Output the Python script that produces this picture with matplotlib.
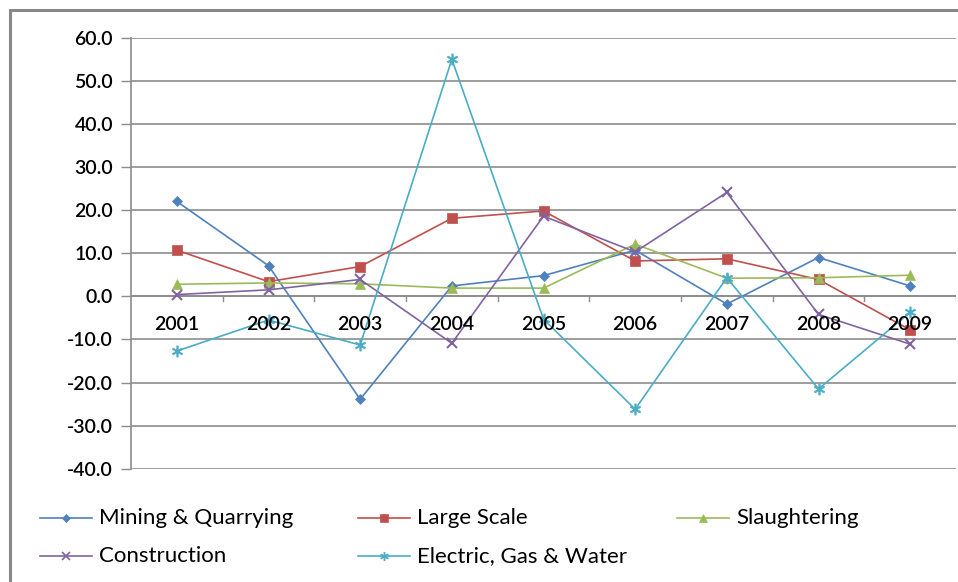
import matplotlib
matplotlib.use("Agg")
import matplotlib.pyplot as plt
from matplotlib.patches import Rectangle
from matplotlib.lines import Line2D

plt.rcParams['font.family'] = ['Lato', 'DejaVu Sans']

years = ['2001', '2002', '2003', '2004', '2005', '2006', '2007', '2008', '2009']

mining = [22.0, 7.1, -23.9, 2.4, 4.8, 10.7, -1.8, 9.0, 2.4]
large_scale = [10.7, 3.4, 6.9, 18.1, 19.8, 8.2, 8.7, 3.9, -7.8]
slaughtering = [2.8, 3.1, 2.9, 1.9, 1.9, 12.1, 4.2, 4.3, 4.9]
construction = [0.4, 1.5, 3.9, -10.9, 18.6, 10.3, 24.1, -4.2, -11.1]
electric = [-12.7, -5.5, -11.3, 55.0, -5.3, -26.2, 4.3, -21.5, -3.7]

series_names = ['Mining & Quarrying', 'Large Scale', 'Slaughtering',
                'Construction', 'Electric, Gas & Water']
series_values = [mining, large_scale, slaughtering, construction, electric]
colors = ['#4F81BD', '#C0504D', '#9BBB59', '#8064A2', '#4BACC6']
markers = ['D', 's', '^', 'x', '$\u2217$']
msizes = [5, 7, 7, 7, 8]

W, H = 958, 582
fig = plt.figure(figsize=(W / 100, H / 100), dpi=100)

# outer chart frame (cut off at right and bottom)
fig.patches.append(Rectangle((10 / W, -0.05), 1.1, 1 - 10 / H + 0.05,
                             transform=fig.transFigure, fill=False,
                             edgecolor='#888888', linewidth=2.2, clip_on=True))

left, right = 131 / W, 956 / W
top, bottom = 37.7 / H, 468.7 / H
ax = fig.add_axes([left, 1 - bottom, right - left, bottom - top])

x = list(range(len(years)))
for vals, c, m, ms, name in zip(series_values, colors, markers, msizes, series_names):
    ax.plot(x, vals, color=c, linewidth=1.2, marker=m, markersize=ms,
            markeredgewidth=1.5 if m == 'x' else 0.5, label=name, zorder=3)

ax.set_xlim(-0.5, len(years) - 0.5)
ax.set_ylim(-40, 60)
ax.set_yticks(range(-40, 61, 10))
ax.set_yticklabels([f"{v:.1f}" for v in range(-40, 61, 10)],
                   fontsize=14, fontweight='semibold')
ax.yaxis.grid(True, color='#8c8c8c', linewidth=1.2)
ax.set_axisbelow(True)
ax.tick_params(axis='y', length=7, width=1, color='#8c8c8c', pad=6)

for s in ['top', 'right', 'bottom']:
    ax.spines[s].set_visible(False)
ax.spines['left'].set_color('#8c8c8c')
ax.spines['left'].set_linewidth(1.2)

# category axis crossing at zero
ax.set_xticks([])
ax.axhline(0, color='#8c8c8c', linewidth=1.2, zorder=2)
for b in [i + 0.5 for i in range(len(years))]:
    ax.plot([b, b], [0, -1.0], color='#8c8c8c', linewidth=1, zorder=2)
for xi, yr in zip(x, years):
    ax.text(xi, -6.6, yr, ha='center', va='center', fontsize=14,
            fontweight='semibold', zorder=4)

# legend
leg_rows = [(518, [0, 1, 2]), (556, [3, 4])]
col_x = [40, 358, 677]
for yrow, idxs in leg_rows:
    for col, i in enumerate(idxs):
        x0 = col_x[col] / W
        x1 = (col_x[col] + 52) / W
        yf = 1 - yrow / H
        fig.add_artist(Line2D([x0, x1], [yf, yf], color=colors[i], linewidth=1.2,
                              transform=fig.transFigure))
        fig.add_artist(Line2D([(x0 + x1) / 2], [yf], color=colors[i],
                              marker=markers[i], markersize=msizes[i] * 0.75,
                              markeredgewidth=1.2 if markers[i] == 'x' else 0.5,
                              transform=fig.transFigure))
        fig.text(x1 + 7 / W, yf, series_names[i], ha='left', va='center',
                 fontsize=16)

fig.savefig('out.png', dpi=100)
